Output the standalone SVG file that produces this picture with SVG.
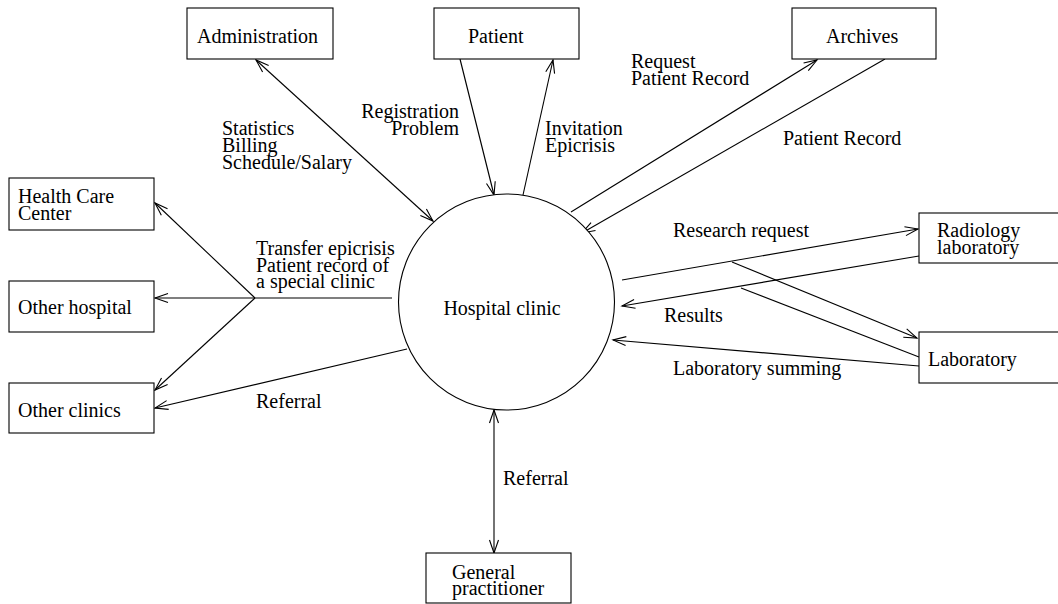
<svg xmlns="http://www.w3.org/2000/svg" width="1058" height="604" viewBox="0 0 1058 604">
  <style>
    .box { fill: #fff; stroke: #000; stroke-width: 1.1; }
    .hub { fill: #fff; stroke: #000; stroke-width: 1.1; }
    .t { font-family: "Liberation Serif", "Times New Roman", serif; font-size: 20px; fill: #000; }
    .c line, .c path { stroke: #000; stroke-width: 1.1; fill: none; }
    .a { marker-end: url(#ah); }
    .aa { marker-start: url(#ah); marker-end: url(#ah); }
  </style>
  <defs>
    <marker id="ah" viewBox="-15 -7 17 14" refX="0" refY="0" markerWidth="17" markerHeight="14" markerUnits="userSpaceOnUse" orient="auto-start-reverse">
      <path d="M-13,-4.5 L0,0 L-13,4.5" fill="none" stroke="#000" stroke-width="1.1"/>
    </marker>
  </defs>
  <rect width="1058" height="604" fill="#fff"/>

  <!-- connectors -->
  <g id="connectors" class="c">
    <line class="aa" x1="256" y1="60" x2="433" y2="221"/>
    <line class="a" x1="460" y1="59" x2="494" y2="195"/>
    <line class="a" x1="523" y1="195" x2="553" y2="60"/>
    <line class="a" x1="571" y1="212" x2="817" y2="60"/>
    <line class="a" x1="885" y1="59" x2="582" y2="233"/>
    <line class="a" x1="622" y1="280" x2="918" y2="229"/>
    <line class="a" x1="732" y1="262" x2="917" y2="338"/>
    <line class="a" x1="919" y1="256" x2="622" y2="306"/>
    <line x1="919" y1="357" x2="741" y2="288"/>
    <line class="a" x1="919" y1="366" x2="613" y2="340"/>
    <line class="a" x1="392" y1="298" x2="155" y2="298"/>
    <line class="a" x1="255" y1="298" x2="155" y2="203"/>
    <line class="a" x1="255" y1="298" x2="155" y2="390"/>
    <line class="a" x1="407" y1="349" x2="155" y2="408"/>
    <line class="aa" x1="494" y1="410" x2="494" y2="553"/>
  </g>

  <!-- connector labels -->
  <g id="labels" class="t">
    <text x="222" y="135">Statistics</text>
    <text x="222" y="152">Billing</text>
    <text x="222" y="169">Schedule/Salary</text>
    <text x="459" y="118" text-anchor="end">Registration</text>
    <text x="459" y="135" text-anchor="end">Problem</text>
    <text x="545" y="135">Invitation</text>
    <text x="545" y="152">Epicrisis</text>
    <text x="631" y="68">Request</text>
    <text x="631" y="85">Patient Record</text>
    <text x="783" y="145">Patient Record</text>
    <text x="673" y="237">Research request</text>
    <text x="664" y="322">Results</text>
    <text x="673" y="375">Laboratory summing</text>
    <text x="256" y="255">Transfer epicrisis</text>
    <text x="256" y="272">Patient record of</text>
    <text x="256" y="288">a special clinic</text>
    <text x="256" y="408">Referral</text>
    <text x="503" y="485">Referral</text>
  </g>

  <!-- nodes -->
  <g id="hospital-clinic">
    <circle class="hub" cx="506.5" cy="302" r="108"/>
    <text class="t" x="502" y="315" text-anchor="middle">Hospital clinic</text>
  </g>
  <g id="administration">
    <rect class="box" x="187" y="8" width="146" height="51"/>
    <text class="t" x="197" y="43">Administration</text>
  </g>
  <g id="patient">
    <rect class="box" x="434" y="8" width="145" height="51"/>
    <text class="t" x="468" y="43">Patient</text>
  </g>
  <g id="archives">
    <rect class="box" x="792" y="8" width="144" height="51"/>
    <text class="t" x="826" y="43">Archives</text>
  </g>
  <g id="health-care-center">
    <rect class="box" x="9" y="178" width="145" height="52"/>
    <text class="t" x="18" y="203">Health Care</text>
    <text class="t" x="18" y="220">Center</text>
  </g>
  <g id="other-hospital">
    <rect class="box" x="9" y="281" width="145" height="51"/>
    <text class="t" x="18" y="314">Other hospital</text>
  </g>
  <g id="other-clinics">
    <rect class="box" x="9" y="383" width="145" height="50"/>
    <text class="t" x="18" y="417">Other clinics</text>
  </g>
  <g id="radiology-laboratory">
    <rect class="box" x="919" y="213" width="145" height="50"/>
    <text class="t" x="937" y="237">Radiology</text>
    <text class="t" x="937" y="254">laboratory</text>
  </g>
  <g id="laboratory">
    <rect class="box" x="919" y="332" width="145" height="51"/>
    <text class="t" x="928" y="366">Laboratory</text>
  </g>
  <g id="general-practitioner">
    <rect class="box" x="426" y="553" width="145" height="50"/>
    <text class="t" x="452" y="579">General</text>
    <text class="t" x="452" y="595">practitioner</text>
  </g>
</svg>
